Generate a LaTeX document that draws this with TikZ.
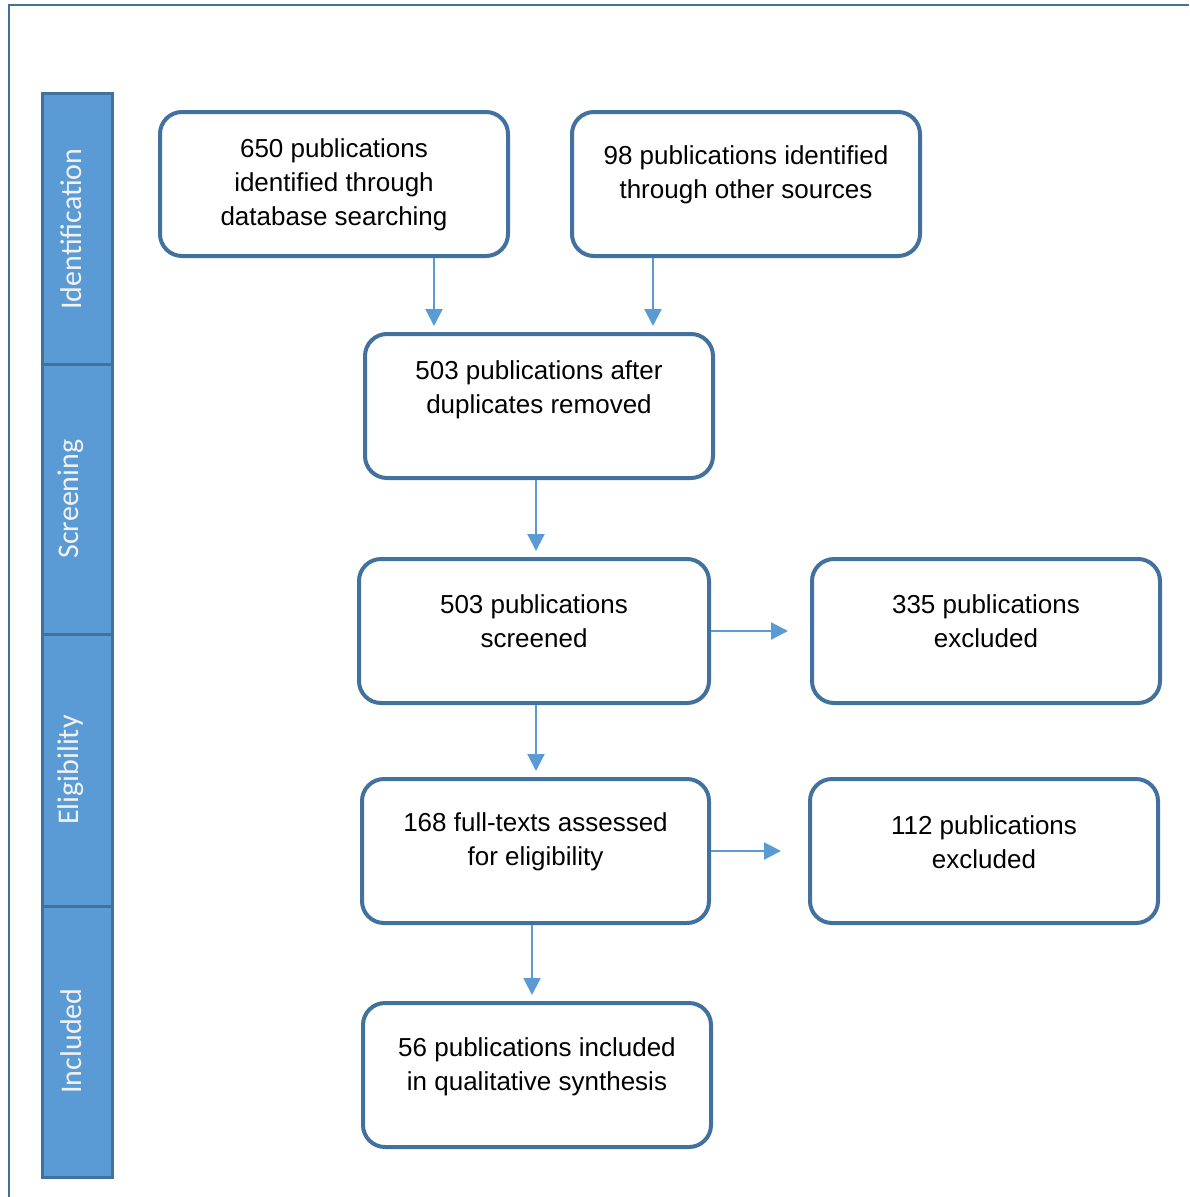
\documentclass[tikz,border=0pt]{standalone}
\usepackage{fontspec}
\setmainfont{Liberation Sans}
\newfontfamily\sidefont{Carlito}
\usetikzlibrary{calc,arrows.meta}
\definecolor{boxline}{HTML}{41719C}
\definecolor{barfill}{HTML}{5B9BD5}
\definecolor{arrowcol}{HTML}{5B9BD5}
\definecolor{sidetext}{HTML}{F2F2F2}
\tikzset{
  flowbox/.style={draw=boxline, line width=4pt, rounded corners=22pt, fill=white, minimum width=348pt, minimum height=144pt, inner sep=0pt},
  boxtext/.style={align=center, font=\fontsize{26}{34}\selectfont, text=black, inner sep=0pt},
  arr/.style={draw=arrowcol, line width=2.2pt, -{Triangle[length=17pt,width=17pt]}, shorten >=6pt},
  sidebar/.style={draw=boxline, line width=3pt, fill=barfill},
  sidelabel/.style={rotate=90, text=sidetext, font=\sidefont\fontsize{30}{34}\selectfont, inner sep=0pt},
}
\begin{document}
\begin{tikzpicture}[x=1pt,y=-1pt]
\useasboundingbox (0,0) rectangle (1189,1197);
% outer frame
\draw[boxline, line width=2pt] (9,1197) -- (9,5) -- (1189,5);
% sidebar
\draw[sidebar] (42,93) rectangle (112,364);
\draw[sidebar] (42,364) rectangle (112,634);
\draw[sidebar] (42,634) rectangle (112,906);
\draw[sidebar] (42,906) rectangle (112,1177);
\node[sidelabel] (s1) at (71,229) {Identification};
\node[sidelabel] (s2) at (71,499) {Screening};
\node[sidelabel] (s3) at (71,770) {Eligibility};
\node[sidelabel] (s4) at (71,1041) {Included};
% boxes
\node[flowbox] (b1) at (334,184) {};
\node[flowbox] (b2) at (746,184) {};
\node[flowbox] (b3) at (539,406) {};
\node[flowbox, minimum width=350pt] (b4) at (534,631) {};
\node[flowbox] (b5) at (986,631) {};
\node[flowbox, minimum width=347pt] (b6) at (535.5,851) {};
\node[flowbox] (b7) at (984,851) {};
\node[flowbox] (b8) at (537,1075) {};
% texts
\node[boxtext] (t1) at (334,185) {650 publications\\identified through\\database searching};
\node[boxtext] (t2) at (746,175) {98 publications identified\\through other sources};
\node[boxtext] (t3) at (539,390) {503 publications after\\duplicates removed};
\node[boxtext] (t4) at (534,621) {503 publications\\screened};
\node[boxtext] (t5) at (986,621) {335 publications\\excluded};
\node[boxtext] (t6) at (535.5,842) {168 full-texts assessed\\for eligibility};
\node[boxtext] (t7) at (984,842) {112 publications\\excluded};
\node[boxtext] (t8) at (537,1067) {56 publications included\\in qualitative synthesis};
% arrows
\draw[arr] ($(b1.south)+(100,0)$) -- ($(b3.north)+(-105,0)$);
\draw[arr] ($(b2.south)+(-93,0)$) -- ($(b3.north)+(114,0)$);
\draw[arr] ($(b3.south)+(-3,0)$) -- ($(b4.north)+(2,0)$);
\draw[arr, shorten >=22pt] (b4.east) -- (b5.west);
\draw[arr] ($(b4.south)+(2,0)$) -- ($(b6.north)+(0.5,0)$);
\draw[arr, shorten >=27pt] (b6.east) -- (b7.west);
\draw[arr] ($(b6.south)+(-3.5,0)$) -- ($(b8.north)+(-5,0)$);
\end{tikzpicture}
\end{document}
